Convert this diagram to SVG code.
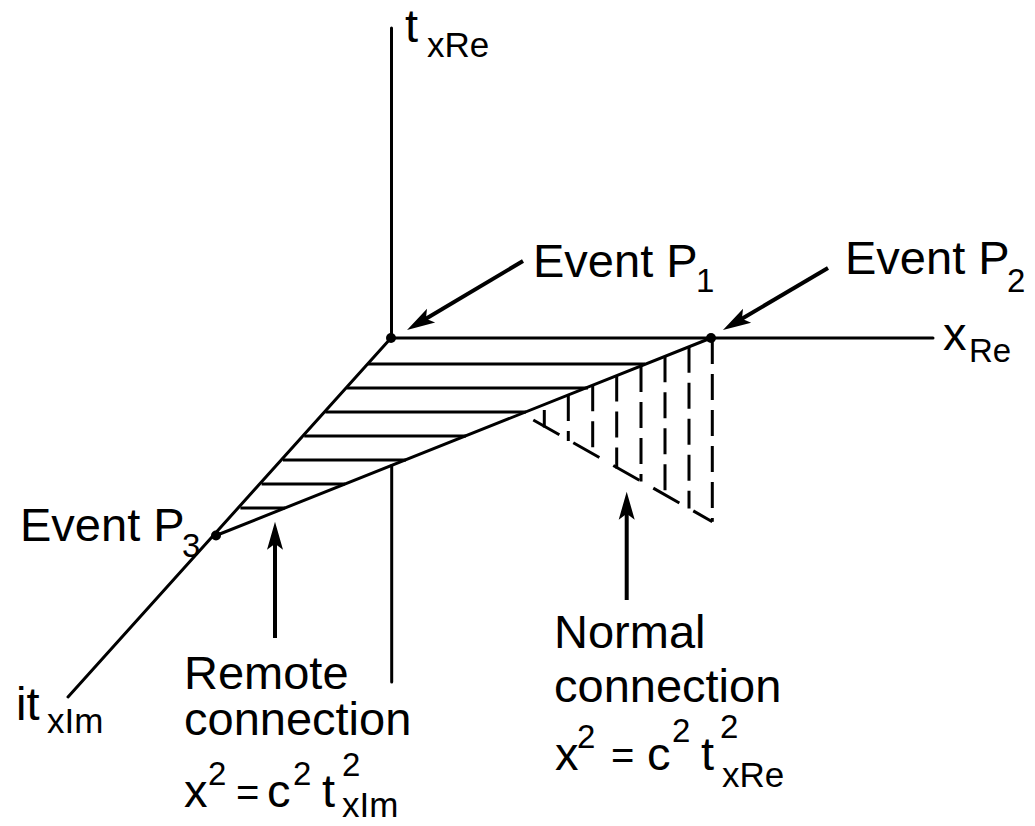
<svg xmlns="http://www.w3.org/2000/svg" width="1035" height="826" viewBox="0 0 1035 826">
<style>
text{font-family:"Liberation Sans",Arial,sans-serif;fill:#000}
.m{font-size:47px}
.e{font-size:40px}
.s{font-size:35px}
.p{font-size:33px}
.ax{stroke:#000;stroke-width:3;fill:none;stroke-linecap:round}
.h{stroke:#000;stroke-width:3;fill:none}
.d{stroke:#000;stroke-width:3;fill:none;stroke-dasharray:26 10}
.ds{stroke:#000;stroke-width:3;fill:none;stroke-dasharray:30 16}
.ar{stroke:#000;stroke-width:4;fill:none;marker-end:url(#ah)}
.dot{fill:#000}
</style>
<defs>
<marker id="ah" markerUnits="userSpaceOnUse" markerWidth="40" markerHeight="24" viewBox="-2 -12 34 24" refX="8" refY="0" orient="auto">
<path d="M28,0 L0,-8 L6,0 L0,8 Z" fill="#000"/>
</marker>
</defs>
<rect width="1035" height="826" fill="#fff"/>
<g id="connectors">
<line class="ax" x1="391.5" y1="28" x2="391.5" y2="338"/>
<line class="ax" x1="391" y1="338" x2="933" y2="338"/>
<line class="ax" x1="391" y1="338" x2="68" y2="697"/>
<line class="ax" x1="216" y1="535.5" x2="711" y2="338"/>
<line class="ax" x1="391.7" y1="465.5" x2="391.7" y2="682"/>
<g id="hatch-remote">
<line class="h" x1="368" y1="364" x2="645" y2="364"/>
<line class="h" x1="346.7" y1="388" x2="588" y2="388"/>
<line class="h" x1="325.4" y1="412" x2="526" y2="412"/>
<line class="h" x1="304.2" y1="436" x2="466" y2="436"/>
<line class="h" x1="282.9" y1="460" x2="406" y2="460"/>
<line class="h" x1="261.6" y1="484" x2="345" y2="484"/>
<line class="h" x1="240.4" y1="508" x2="285" y2="508"/>
</g>
<g id="hatch-normal">
<line class="d" x1="544.3" y1="410" x2="544.3" y2="427.5"/>
<line class="d" x1="568.3" y1="394.9" x2="568.3" y2="441.1"/>
<line class="d" x1="592.7" y1="385.2" x2="592.7" y2="454.8"/>
<line class="d" x1="616.7" y1="375.6" x2="616.7" y2="468.4"/>
<line class="d" x1="641" y1="365.9" x2="641" y2="481.4"/>
<line class="d" x1="665" y1="356.3" x2="665" y2="494.8"/>
<line class="d" x1="689" y1="346.7" x2="689" y2="508.5"/>
<line class="d" x1="712.3" y1="338" x2="712.3" y2="521.7"/>
<line class="ds" x1="533.3" y1="420" x2="712.3" y2="521.7"/>
</g>
<line class="ar" x1="523" y1="261" x2="424.2" y2="319.8"/>
<line class="ar" x1="828" y1="268" x2="740.2" y2="319.8"/>
<line class="ar" x1="275" y1="638" x2="275" y2="541.7"/>
<line class="ar" x1="626.7" y1="600" x2="626.7" y2="511.7"/>
</g>
<g id="axis-t">
<text class="m" x="405" y="42">t</text><text class="s" x="427" y="57">xRe</text>
</g>
<g id="axis-x">
<text class="m" x="943" y="350">x</text><text class="p" x="969" y="362">Re</text>
</g>
<g id="axis-it">
<text class="m" x="16" y="720">it</text><text class="s" x="47" y="733">xIm</text>
</g>
<g id="event-p1">
<circle class="dot" cx="391" cy="338" r="5"/>
<text class="m" x="533" y="277">Event P</text><text class="p" x="696" y="292">1</text>
</g>
<g id="event-p2">
<circle class="dot" cx="711" cy="338" r="5"/>
<text class="m" x="845" y="274">Event P</text><text class="p" x="1007" y="292">2</text>
</g>
<g id="event-p3">
<circle class="dot" cx="216" cy="535.5" r="5"/>
<text class="m" x="20" y="541">Event P</text><text class="p" x="182" y="557">3</text>
</g>
<g id="remote-label">
<text class="m" x="184" y="689">Remote</text>
<text class="m" x="184" y="735">connection</text>
<text class="m" x="184" y="807">x</text><text class="p" x="208" y="785">2</text>
<text class="e" x="236" y="806">=</text>
<text class="m" x="267" y="807">c</text><text class="p" x="293" y="785">2</text>
<text class="m" x="322" y="807">t</text><text class="p" x="342" y="776">2</text><text class="s" x="342" y="817">xIm</text>
</g>
<g id="normal-label">
<text class="m" x="554" y="648">Normal</text>
<text class="m" x="554" y="702">connection</text>
<text class="m" x="555" y="770">x</text><text class="p" x="577" y="748">2</text>
<text class="e" x="611" y="769">=</text>
<text class="m" x="647" y="770">c</text><text class="p" x="672" y="742">2</text>
<text class="m" x="701" y="770">t</text><text class="p" x="720" y="738">2</text><text class="s" x="722" y="787">xRe</text>
</g>
</svg>
